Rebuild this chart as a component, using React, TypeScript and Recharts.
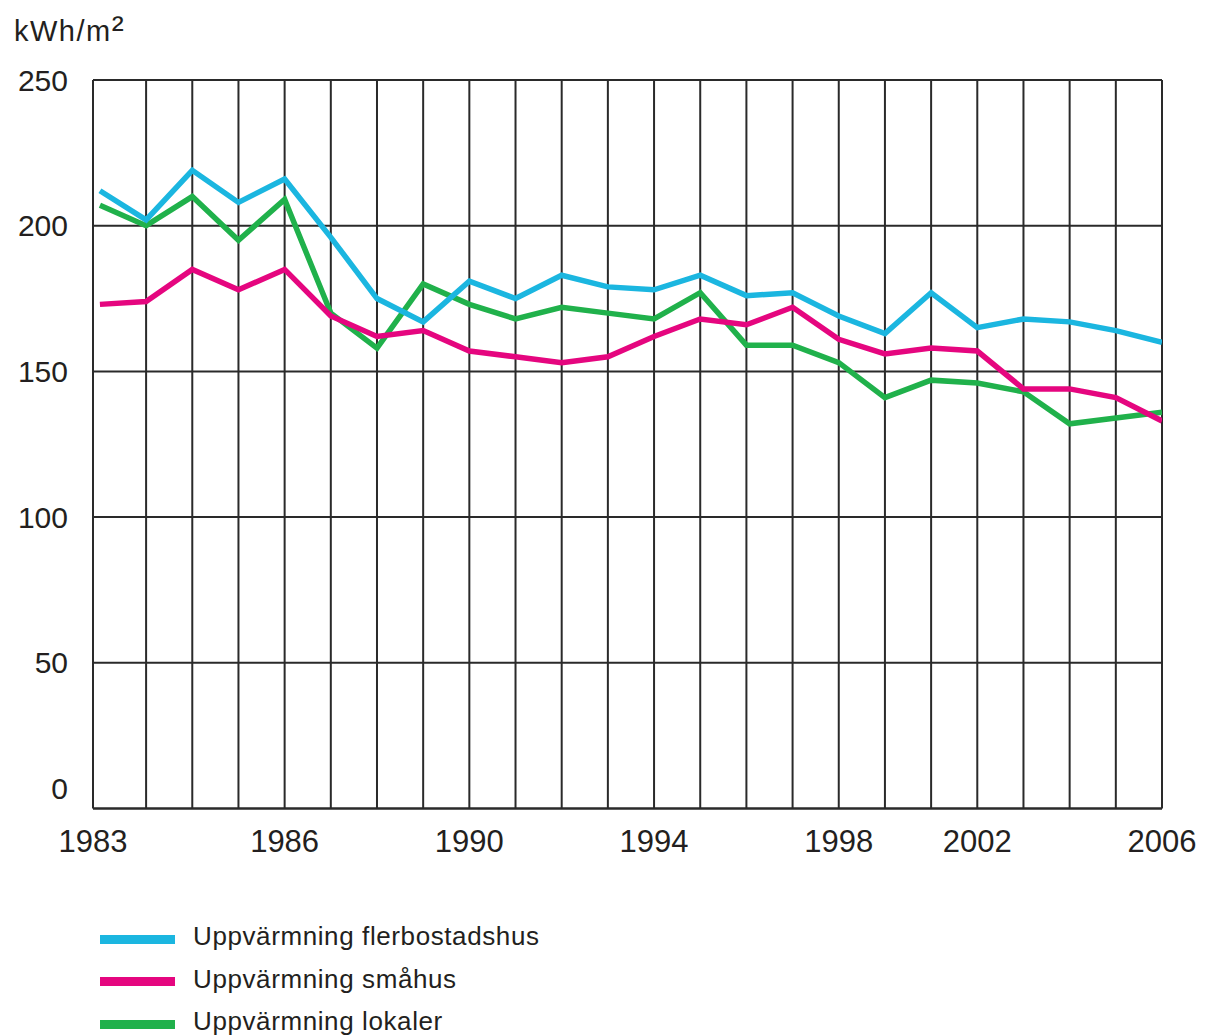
import React from 'react';
import { LineChart, Line, XAxis, YAxis, CartesianGrid, Legend, Label } from 'recharts';

const years = [1983, 1984, 1985, 1986, 1987, 1988, 1989, 1990, 1991, 1992, 1993, 1994, 1995, 1996, 1997, 1998, 1999, 2000, 2001, 2002, 2003, 2004, 2005, 2006];
const flerbostadshus = [212, 202, 219, 208, 216, 196, 175, 167, 181, 175, 183, 179, 178, 183, 176, 177, 169, 163, 177, 165, 168, 167, 164, 160];
const smahus = [173, 174, 185, 178, 185, 169, 162, 164, 157, 155, 153, 155, 162, 168, 166, 172, 161, 156, 158, 157, 144, 144, 141, 133];
const lokaler = [207, 200, 210, 195, 209, 170, 158, 180, 173, 168, 172, 170, 168, 177, 159, 159, 153, 141, 147, 146, 143, 132, 134, 136];

const xTickPositions = [1982.85, 1987, 1991, 1995, 1999, 2002, 2006];
const xTickLabels = ['1983', '1986', '1990', '1994', '1998', '2002', '2006'];
const gridYears = [1984, 1985, 1986, 1987, 1988, 1989, 1990, 1991, 1992, 1993, 1994, 1995, 1996, 1997, 1998, 1999, 2000, 2001, 2002, 2003, 2004, 2005, 2006];
const yTicks = [0, 50, 100, 150, 200, 250];
const unitLabel = 'kWh/m';

const seriesInfo = [
  { key: 'flerbostadshus', name: 'Uppvärmning flerbostadshus', color: '#1bb6e0' },
  { key: 'smahus', name: 'Uppvärmning småhus', color: '#e5067f' },
  { key: 'lokaler', name: 'Uppvärmning lokaler', color: '#20b14b' },
];

const data = years.map((year, i) => ({
  year,
  flerbostadshus: flerbostadshus[i],
  smahus: smahus[i],
  lokaler: lokaler[i],
}));

const FONT = "'Liberation Sans', Arial, Helvetica, sans-serif";
const INK = '#231f20';
const GRID = '#2a2a2a';

const YTick = (props: any) => {
  const { x, y, payload } = props;
  const dy = payload.value === 0 ? -20 : 0;
  return (
    <text x={x} y={y + dy} textAnchor="end" dominantBaseline="central" fontSize={30} fontFamily={FONT} fill={INK}>
      {payload.value}
    </text>
  );
};

const XTick = (props: any) => {
  const { x, y, payload } = props;
  const idx = xTickPositions.indexOf(payload.value);
  return (
    <text x={x} y={y + 35} textAnchor="middle" fontSize={31} fontFamily={FONT} fill={INK}>
      {idx >= 0 ? xTickLabels[idx] : ''}
    </text>
  );
};

const LegendContent = () => (
  <div style={{ fontFamily: FONT }}>
    {seriesInfo.map((s) => (
      <div key={s.key} style={{ height: 42.5, display: 'flex', alignItems: 'center' }}>
        <div style={{ width: 75, height: 9, background: s.color, marginTop: 6 }} />
        <span style={{ marginLeft: 18, fontSize: 26, letterSpacing: 0.6, color: INK, lineHeight: '26px' }}>{s.name}</span>
      </div>
    ))}
  </div>
);

export default function App() {
  return (
    <LineChart width={1197} height={1028} data={data} margin={{ top: 72, right: 43, bottom: 40, left: 0 }}>
      <CartesianGrid stroke={GRID} strokeWidth={2} verticalValues={gridYears} horizontalValues={yTicks} />
      <XAxis
        type="number"
        dataKey="year"
        domain={[1982.85, 2006]}
        allowDataOverflow
        ticks={xTickPositions}
        interval={0}
        tick={<XTick />}
        tickLine={false}
        axisLine={{ stroke: GRID, strokeWidth: 2 }}
        height={60}
      />
      <YAxis
        type="number"
        domain={[0, 250]}
        ticks={yTicks}
        interval={0}
        width={85}
        tick={<YTick />}
        tickLine={false}
        tickSize={0}
        tickMargin={25}
        axisLine={{ stroke: GRID, strokeWidth: 2 }}
      >
        <Label
          content={() => (
            <text x={6} y={33} fontSize={29} letterSpacing={1.5} fontFamily={FONT} fill={INK}>
              {unitLabel}
              <tspan fontSize={36}>²</tspan>
            </text>
          )}
        />
      </YAxis>
      <Line type="linear" dataKey="lokaler" name={seriesInfo[2].name} stroke={seriesInfo[2].color} strokeWidth={5.5} dot={false} isAnimationActive={false} />
      <Line type="linear" dataKey="flerbostadshus" name={seriesInfo[0].name} stroke={seriesInfo[0].color} strokeWidth={5.5} dot={false} isAnimationActive={false} />
      <Line type="linear" dataKey="smahus" name={seriesInfo[1].name} stroke={seriesInfo[1].color} strokeWidth={5.5} dot={false} isAnimationActive={false} />
      <Legend
        layout="vertical"
        align="center"
        verticalAlign="bottom"
        content={<LegendContent />}
        wrapperStyle={{ left: 92, top: 907, bottom: 'auto', width: 'auto' }}
      />
    </LineChart>
  );
}
